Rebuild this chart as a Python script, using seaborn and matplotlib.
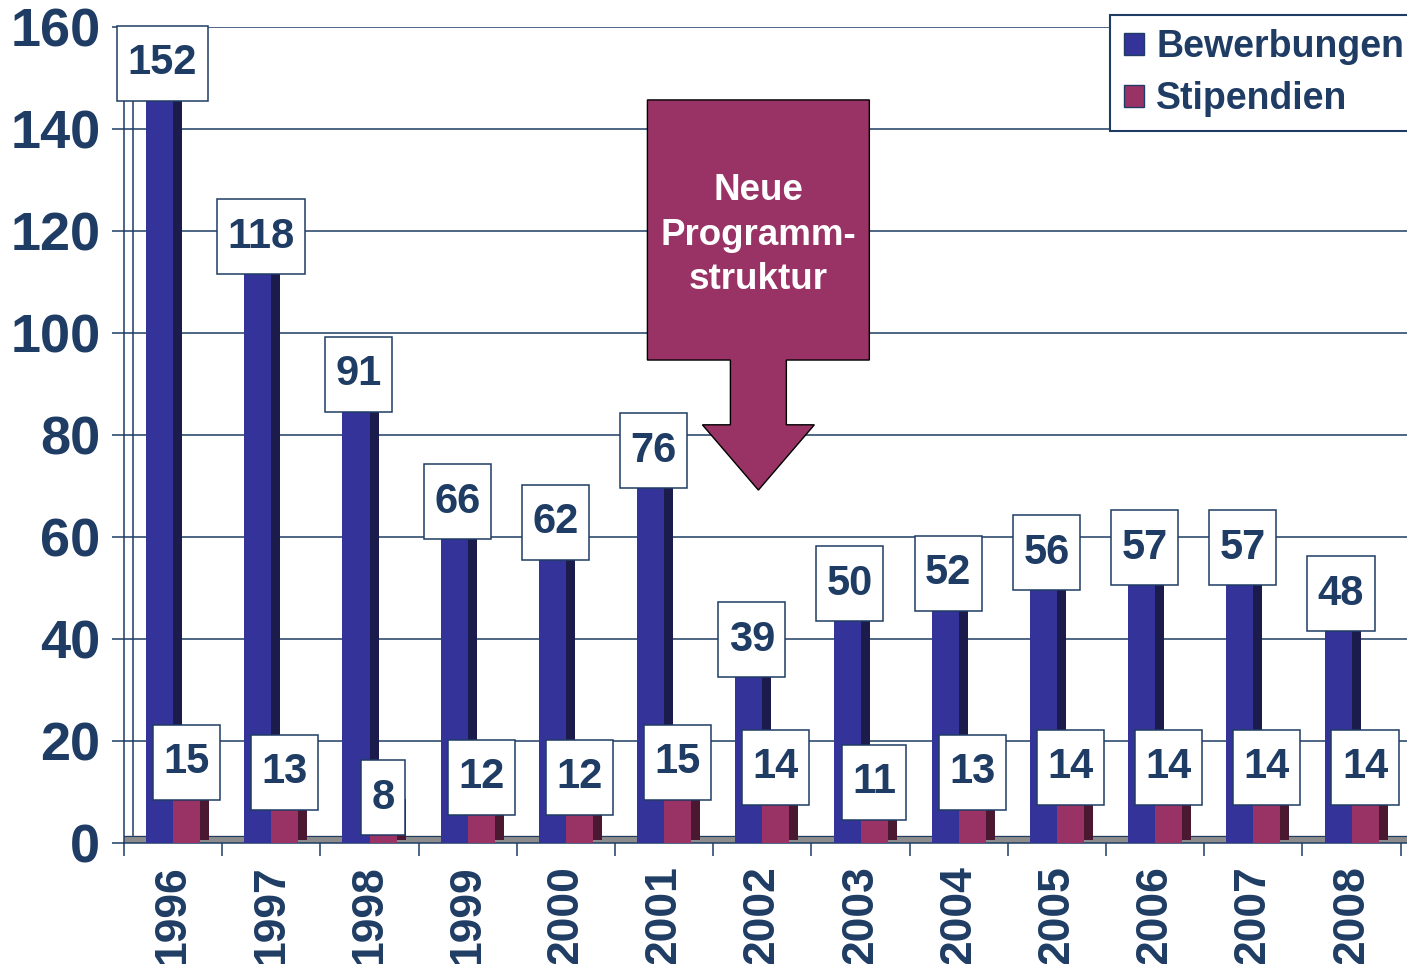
import numpy as np
import pandas as pd
import matplotlib
matplotlib.use("Agg")
import matplotlib.pyplot as plt
import seaborn as sns
from matplotlib import patheffects
from matplotlib.patches import Polygon
from matplotlib.path import Path

# ---------------------------------------------------------------
# Data
# ---------------------------------------------------------------
years = ["1996", "1997", "1998", "1999", "2000", "2001", "2002",
         "2003", "2004", "2005", "2006", "2007", "2008"]
bewerbungen = [152, 118, 91, 66, 62, 76, 39, 50, 52, 56, 57, 57, 48]
stipendien = [15, 13, 8, 12, 12, 15, 14, 11, 13, 14, 14, 14, 14]
series = ["Bewerbungen", "Stipendien"]
callout_text = "Neue\nProgramm-\nstruktur"
callout_year = "2002"

NAVY = "#1f3c64"
BLUE, BLUE_DARK = "#333399", "#1c1c4c"
MAROON, MAROON_DARK = "#993366", "#4a1830"

sns.set_theme(style="white")
plt.rcParams["font.family"] = ["Liberation Sans", "DejaVu Sans"]
plt.rcParams["font.weight"] = "bold"

df = pd.DataFrame({
    "Jahr": years * 2,
    "Anzahl": bewerbungen + stipendien,
    "Reihe": [series[0]] * len(years) + [series[1]] * len(years),
})


def label_box(x0, y0, width, height, mutation_size):
    # white value box, taller than wide padding like the original
    px, py = 0.25 * mutation_size, 0.42 * mutation_size
    x0, y0 = x0 - px, y0 - py
    x1, y1 = x0 + width + 2 * px, y0 + height + 2 * py
    return Path([(x0, y0), (x1, y0), (x1, y1), (x0, y1), (x0, y0)], closed=True)


fig = plt.figure(figsize=(14.07, 9.64), dpi=100)
ax = fig.add_axes([124 / 1407, 1 - 843 / 964, 1283 / 1407, 816 / 964])

sns.barplot(df, x="Jahr", y="Anzahl", hue="Reihe", hue_order=series,
            palette=[BLUE, MAROON], width=0.55, gap=0, saturation=1,
            linewidth=0, ax=ax, zorder=3)

# fake 3D side faces
for container, dark in zip(ax.containers, [BLUE_DARK, MAROON_DARK]):
    for bar in container:
        bar.set_path_effects([
            patheffects.SimplePatchShadow(offset=(6.5, 2.2), shadow_rgbFace=dark, alpha=1.0),
            patheffects.Normal(),
        ])

ax.set_ylim(0, 160)
ax.set_xlim(-0.5, 12.565)
ax.set_xlabel("")
ax.set_ylabel("")

# floor + back wall
ax.axhspan(0, 1.4, color="#8c8c8c", zorder=1.5)
ax.axhline(1.4, color=NAVY, lw=0.8, zorder=1.6)
ax.axvline(-0.5 + 9 / 98.2, color=NAVY, lw=1.1, zorder=1)

ax.set_yticks(range(0, 161, 20))
ax.yaxis.grid(True, color=NAVY, lw=1.1)
ax.set_axisbelow(True)
ax.tick_params(axis="y", left=True, length=9, width=1.1, color=NAVY,
               labelsize=39, labelcolor=NAVY, pad=8)
ax.set_xticks(np.arange(-0.5, 12.6, 1), minor=True)
ax.tick_params(axis="x", which="major", length=0, labelsize=32,
               labelcolor=NAVY, labelrotation=90, pad=16)
ax.tick_params(axis="x", which="minor", bottom=True, length=9, width=1.1, color=NAVY)
for lab in ax.get_xticklabels() + ax.get_yticklabels():
    lab.set_fontweight("bold")

for s in ["top", "right"]:
    ax.spines[s].set_visible(False)
for s in ["left", "bottom"]:
    ax.spines[s].set_color(NAVY)
    ax.spines[s].set_linewidth(1.1)

# value boxes (sit over the bar tops like in the original)
for container, values, dx in zip(ax.containers, [bewerbungen, stipendien], [0.03, 0.0]):
    for bar, v in zip(container, values):
        x = bar.get_x() + bar.get_width() / 2 + dx
        ax.annotate(str(v), xy=(x, v - 6.5), xytext=(0, 12.7), textcoords="offset points",
                    ha="center", va="bottom", fontsize=30, fontweight="bold", color=NAVY,
                    bbox=dict(boxstyle=label_box, fc="white", ec=NAVY, lw=1.1),
                    zorder=6, annotation_clip=False)

# callout arrow
cx = years.index(callout_year) - 0.04
verts = [(cx - 1.13, 145.7), (cx + 1.13, 145.7), (cx + 1.13, 94.7), (cx + 0.285, 94.7),
         (cx + 0.285, 82), (cx + 0.57, 82), (cx, 69.2), (cx - 0.57, 82),
         (cx - 0.285, 82), (cx - 0.285, 94.7), (cx - 1.13, 94.7)]
ax.add_patch(Polygon(verts, closed=True, fc=MAROON, ec="black", lw=1, zorder=7))
ax.text(cx, 119.2, callout_text, ha="center", va="center", color="white",
        fontsize=26.5, fontweight="bold", linespacing=1.35, zorder=8)

# legend
sns.move_legend(ax, "upper left", bbox_to_anchor=(1110 / 1407, 1 - 15 / 964),
                bbox_transform=fig.transFigure, title=None, frameon=True,
                fontsize=27, handlelength=0.53, handleheight=0.53,
                handletextpad=0.32, labelspacing=0.42, borderpad=0.38,
                borderaxespad=0, fancybox=False, edgecolor=NAVY, framealpha=1)
leg = ax.get_legend()
leg.get_frame().set_linewidth(1.5)
leg.set_zorder(10)
for t in leg.get_texts():
    t.set_color(NAVY)
    t.set_fontweight("bold")
for h in leg.legend_handles:
    h.set_edgecolor(NAVY)
    h.set_linewidth(1)

fig.savefig("out.png", dpi=100)
